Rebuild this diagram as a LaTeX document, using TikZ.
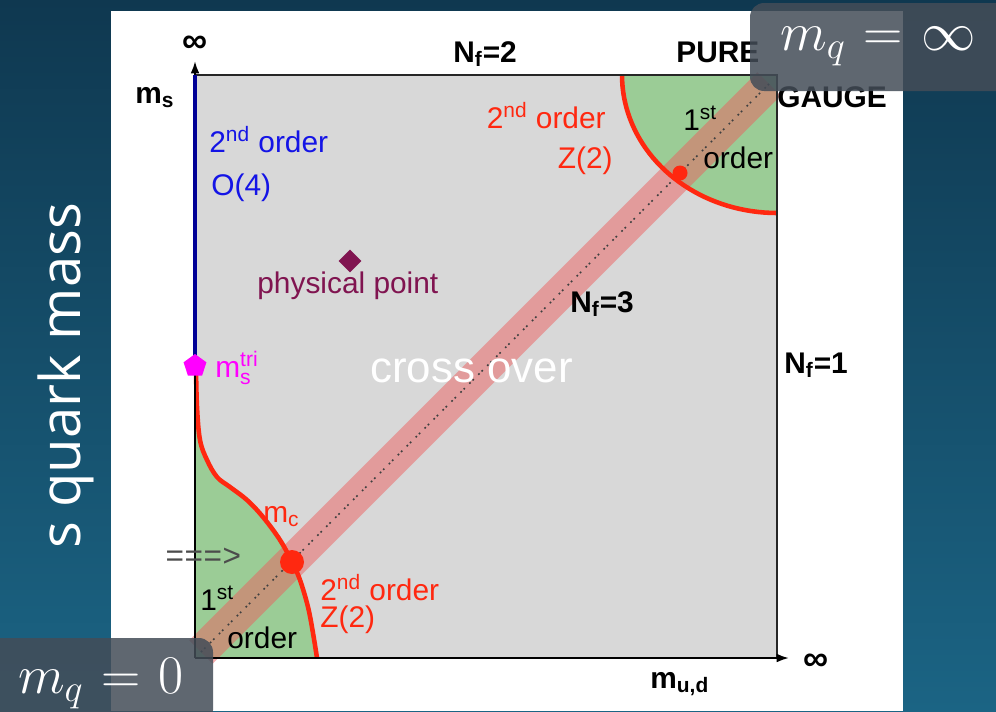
\RequirePackage{fix-cm}
\documentclass[tikz,border=0pt]{standalone}
\usepackage{fontspec}
\setmainfont{Liberation Sans}
\newfontfamily\opensans{Open Sans}
\newfontfamily\typewriter{Liberation Mono}
\usepackage{xcolor}
\definecolor{bgtop}{RGB}{15,56,80}
\definecolor{bgbot}{RGB}{27,100,132}
\definecolor{panel}{RGB}{216,216,216}
\definecolor{firstorder}{RGB}{155,204,150}
\definecolor{band}{RGB}{236,96,96}
\definecolor{critical}{RGB}{255,40,16}
\definecolor{otwo}{RGB}{20,20,230}
\definecolor{navyline}{RGB}{0,0,150}
\definecolor{physical}{RGB}{128,20,80}
\definecolor{tricrit}{RGB}{255,0,255}
\definecolor{overlay}{RGB}{68,77,88}
\usepackage{tikz}
\usetikzlibrary{arrows.meta, positioning, shapes.geometric}

\begin{document}
\begin{tikzpicture}[x=0.02cm, y=-0.02cm,
        diagtext/.style={font=\fontsize{17}{20}\selectfont, inner sep=0pt, anchor=base west},
        redtext/.style={diagtext, text=critical},
        bluetext/.style={diagtext, text=otwo},
        nflabel/.style={diagtext, font=\fontsize{17}{20}\selectfont\bfseries},
        inflabel/.style={inner sep=0pt, font=\fontsize{20}{22}\selectfont\bfseries},
        boundary/.style={critical, line width=2.6pt},
        axis/.style={-{Latex[length=7pt, width=5pt]}, line width=1.2pt, black},
        dot/.style={circle, fill=critical, inner sep=0pt},
        massbox/.style={fill=overlay, fill opacity=0.85, rounded corners=8pt},
        masslabel/.style={text=white, font=\fontsize{31}{36}\selectfont, inner sep=0pt, anchor=base}
    ]
    \useasboundingbox (0,0) rectangle (996,711);
    \shade[top color=bgtop, bottom color=bgbot] (0,0) rectangle (996,711);
    \fill[white] (111,11) rectangle (903,711);
    \fill[panel] (195,75) rectangle (777,658);

    % first order regions
    \fill[firstorder] (777,75) -- (622,75) -- plot[domain=0:90, samples=40] ({777-155*cos(\x)}, {75+138*sin(\x)}) -- cycle;
    \fill[firstorder] (196,373) -- plot[smooth, tension=0.6] coordinates {(196,373) (197,407) (200,440) (207,460) (217,477) (230,487) (247,500) (263,517) (280,540) (292,562) (300,580) (308,607) (313,633) (317,658)} -- (195,658) -- cycle;

    % N_f = 3 diagonal
    \coordinate (bandlow) at (201,652);
    \coordinate (bandhigh) at (769,84);
    \draw[band, opacity=0.5, line width=0.66cm] (bandlow) -- (bandhigh);
    \draw[black!75, line width=0.9pt, dash pattern=on 1pt off 1.6pt on 1pt off 3.6pt] (bandlow) -- (bandhigh);

    % critical lines
    \draw[boundary] plot[domain=0:90, samples=40] ({777-155*cos(\x)}, {75+138*sin(\x)});
    \draw[boundary] plot[smooth, tension=0.6] coordinates {(196,368) (197,407) (200,440) (207,460) (217,477) (230,487) (247,500) (263,517) (280,540) (292,562) (300,580) (308,607) (313,633) (317,658)};

    % axes and frame
    \coordinate (origin) at (195,658);
    \coordinate (mstop) at (195,61);
    \coordinate (mudend) at (789,658);
    \draw[line width=1.1pt, black!85] (195,75) -- (777,75) -- (777,658);
    \draw[axis] (origin) -- (mstop);
    \draw[axis] (origin) -- (mudend);
    \draw[navyline, line width=2.8pt] (195,75) -- (195,366);

    \node[dot, minimum size=0.48cm] (mclow) at (292,562) {};
    \node[dot, minimum size=0.3cm] (mcup) at (680,173) {};
    \node[regular polygon, regular polygon sides=5, fill=tricrit, minimum size=0.48cm, inner sep=0pt] (tric) at (195,366) {};
    \node[diamond, fill=physical, minimum size=0.46cm, inner sep=0pt] (phys) at (350,261) {};

    % labels
    \node[inflabel] (inftop) at (195,44) {∞};
    \node[inflabel] (infright) at (816,662) {∞};
    \node[nflabel] (ms) at (135,103) {m\textsubscript{s}};
    \node[nflabel] (mud) at (650,688) {m\textsubscript{u,d}};
    \node[nflabel] (nftwo) at (453,62) {N\textsubscript{f}=2};
    \node[nflabel] (pure) at (676,62) {PURE};
    \node[nflabel] (gauge) at (777,107) {GAUGE};
    \node[nflabel] (nfone) at (784,373) {N\textsubscript{f}=1};
    \node[nflabel] (nfthree) at (570,312) {N\textsubscript{f}=3};

    \node[bluetext] (otwoa) at (209,152) {2\textsuperscript{nd} order};
    \node[bluetext] (otwob) at (211,195) {O(4)};
    \node[redtext, anchor=base east] (ztwoa) at (606,128) {2\textsuperscript{nd} order};
    \node[redtext, anchor=base east] (ztwob) at (613,168) {Z(2)};
    \node[diagtext] (firstup) at (683,130) {1\textsuperscript{st}};
    \node[diagtext] (orderup) at (703,168) {order};

    \node[diagtext, text=physical] (physlabel) at (257,293) {physical point};
    \node[diagtext, text=tricrit] (mstri) at (215,377) {m$^{\mbox{\fontsize{12}{13}\selectfont tri}}_{\mbox{\fontsize{12}{13}\selectfont s}}$};
    \node[diagtext, text=white, font=\fontsize{25}{28}\selectfont] (crossover) at (370,382) {cross over};

    \node[redtext] (mclabel) at (263,522) {m\textsubscript{c}};
    \node[diagtext, text=black!70, font=\typewriter\fontsize{18}{20}\selectfont] (arrowtext) at (165,566) {===>};
    \node[diagtext] (firstlow) at (200,610) {1\textsuperscript{st}};
    \node[diagtext] (orderlow) at (227,648) {order};
    \node[redtext] (ztwoc) at (320,600) {2\textsuperscript{nd} order};
    \node[redtext] (ztwod) at (320,627) {Z(2)};

    % slide overlays
    \node[rotate=90, anchor=base, text=white, font=\opensans\fontsize{32}{36}\selectfont, inner sep=0pt] (squark) at (80,376) {s quark mass};
    \fill[massbox] (750,3) rectangle (1012,91);
    \node[masslabel] (mqinf) at (878,50) {$m_q \mkern1mu=\mkern1mu \infty$};
    \fill[massbox] (-12,638) rectangle (213,724);
    \node[masslabel] (mqzero) at (101,693) {$m_q \mkern1mu=\mkern1mu 0$};
\end{tikzpicture}
\end{document}
